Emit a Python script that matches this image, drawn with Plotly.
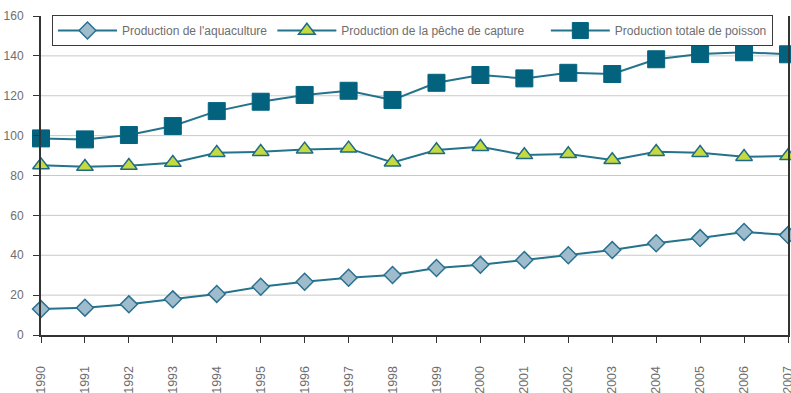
import plotly.graph_objects as go

# Production mondiale de poisson (millions de tonnes), 1990-2007
years = list(range(1990, 2008))
aquaculture = [13.0, 13.7, 15.4, 17.9, 20.6, 24.2, 26.7, 28.7, 30.1, 33.6,
               35.2, 37.6, 40.0, 42.6, 46.0, 48.6, 51.7, 50.1]
capture = [85.2, 84.4, 84.9, 86.4, 91.4, 91.9, 93.1, 93.6, 86.6, 92.8,
           94.4, 90.3, 90.8, 87.8, 91.9, 91.4, 89.4, 89.8]
total = [98.6, 98.1, 100.3, 104.8, 112.3, 117.0, 120.4, 122.5, 117.9, 126.5,
         130.4, 128.7, 131.5, 130.9, 138.3, 140.9, 141.8, 140.8]
y_ticks = [0, 20, 40, 60, 80, 100, 120, 140, 160]

LINE = "#24738c"
FONT = "Liberation Sans, Arial, sans-serif"
TEXT = "#6e6e6e"
PAD = "\u00a0" * 5  # extra room after the middle legend entry

fig = go.Figure()
fig.add_trace(go.Scatter(
    x=years, y=aquaculture, name="Production de l'aquaculture",
    mode="lines+markers", cliponaxis=False,
    line=dict(color=LINE, width=2),
    marker=dict(symbol="diamond", size=13, color="#9fbccc",
                line=dict(color="#2a7090", width=1.5)),
))
fig.add_trace(go.Scatter(
    x=years, y=capture, name="Production de la pêche de capture" + PAD,
    mode="lines+markers", cliponaxis=False,
    line=dict(color=LINE, width=2),
    marker=dict(symbol="triangle-up", size=14.5, color="#c4da40",
                line=dict(color="#1f6b84", width=1.5)),
))
fig.add_trace(go.Scatter(
    x=years, y=total, name="Production totale de poisson",
    mode="lines+markers", cliponaxis=False,
    line=dict(color=LINE, width=2),
    marker=dict(symbol="square", size=17, color="#03637f",
                line=dict(color="#03637f", width=1)),
))

# light horizontal grid lines (none at the top edge)
for v in y_ticks[1:-1]:
    fig.add_shape(type="line", xref="paper", yref="y", x0=0, x1=1, y0=v, y1=v,
                  line=dict(color="#c9c9c9", width=1), layer="below")

fig.update_layout(
    width=791, height=393,
    margin=dict(l=41, r=3, t=16, b=58, autoexpand=False),
    paper_bgcolor="white", plot_bgcolor="white",
    font=dict(family=FONT, size=12, color=TEXT),
    showlegend=True,
    legend=dict(
        orientation="h", x=0.0147, xanchor="left", y=1.003, yanchor="top",
        bgcolor="white", bordercolor="#3a3a3a", borderwidth=1,
        itemwidth=59, font=dict(family=FONT, size=12, color=TEXT),
        itemclick=False,
    ),
    xaxis=dict(
        range=[1990, 2007], tickvals=years, ticktext=[str(y) for y in years],
        tickangle=-90, showgrid=False, zeroline=False,
        showline=True, linecolor="#333333", linewidth=2,
        ticks="outside", ticklen=6, tickcolor="#333333", tickwidth=1,
        ticklabelstandoff=18, ticklabeloverflow="allow", automargin=False,
        tickfont=dict(family=FONT, size=12.5, color=TEXT),
    ),
    yaxis=dict(
        range=[0, 160], tickvals=y_ticks, showgrid=False, zeroline=False,
        showline=True, linecolor="#333333", linewidth=2, mirror=True,
        ticks="outside", ticklen=6, tickcolor="#333333", tickwidth=1,
        ticklabelstandoff=7, automargin=False,
        tickfont=dict(family=FONT, size=12, color=TEXT),
    ),
)

fig.write_html("out.html")
